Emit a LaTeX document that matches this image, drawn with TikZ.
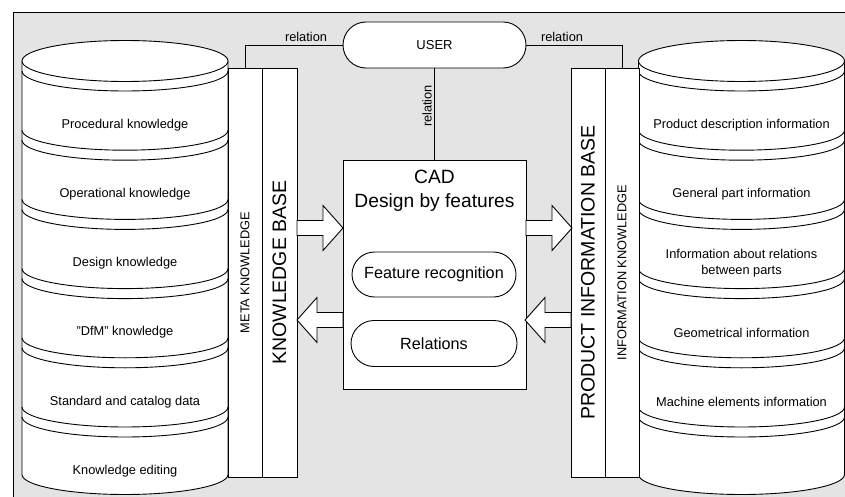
\documentclass[tikz,border=0pt]{standalone}
\usepackage{fontspec}
\setmainfont{Liberation Sans}
\usetikzlibrary{shapes.misc}
\definecolor{bggray}{HTML}{E4E4E4}
\newcommand\fs[2]{\fontsize{#1}{#2}\selectfont}
% lower half of an ellipse: centre x, centre y, x radius, y radius
\newcommand\cylarc[4]{\draw[outline] (#1-#3,#2) .. controls (#1-#3,#2+0.5523*#4) and (#1-0.5523*#3,#2+#4) .. (#1,#2+#4) .. controls (#1+0.5523*#3,#2+#4) and (#1+#3,#2+0.5523*#4) .. (#1+#3,#2);}
% stacked cylinder centred at x = #1
\newcommand\drawcyl[1]{%
  \path[outline, fill=white] (#1-103,61) -- (#1-103,474.5)
    .. controls (#1-103,485.5) and (#1-56.9,494.5) .. (#1,494.5)
    .. controls (#1+56.9,494.5) and (#1+103,485.5) .. (#1+103,474.5) -- (#1+103,61);
  \draw[outline, fill=white] (#1,61) ellipse [x radius=103pt, y radius=20.5pt];
  \cylarc{#1}{71}{103}{20}
  \foreach \k in {1,...,5}{%
    \pgfmathsetmacro\ca{61+69.2*\k}%
    \pgfmathsetmacro\cb{71+69.2*\k}%
    \cylarc{#1}{\ca}{103}{20}
    \cylarc{#1}{\cb}{103}{20}
  }%
}
\tikzset{
  outline/.style={draw=black, line width=0.9pt},
  layer/.style={font=\fs{12.8}{16}, align=center, inner sep=0pt},
  colbox/.style={outline, fill=white, minimum height=409pt, inner sep=0pt},
  pill/.style={outline, fill=white, rounded rectangle, inner sep=0pt},
  bigtxt/.style={font=\fs{19.5}{23}, rotate=90, inner sep=0pt},
  smalltxt/.style={font=\fs{12.8}{16}, inner sep=0pt},
  blockarrow/.pic={\draw[outline, fill=white] (0,-7.5) -- (26,-7.5) -- (26,-22.5) -- (46,0) -- (26,22.5) -- (26,7.5) -- (0,7.5) -- cycle;}
}
\begin{document}
\begin{tikzpicture}[x=1pt, y=-1pt]
\useasboundingbox (0,0) rectangle (845,497);
\clip (0,0) rectangle (845,497);
% panel
\fill[bggray] (13,12) rectangle (850,502);
\draw[outline] (13,502) -- (13,12) -- (850,12);

% knowledge cylinder
\drawcyl{125}
\node[layer] (kp) at (125,125) {Procedural knowledge};
\node[layer] (ko) at (125,194.2) {Operational knowledge};
\node[layer] (kd) at (125,263.4) {Design knowledge};
\node[layer] (kf) at (125,332.6) {"DfM" knowledge};
\node[layer] (ks) at (125,401.8) {Standard and catalog data};
\node[layer] (ke) at (125,471) {Knowledge editing};

% product information cylinder
\drawcyl{741.5}
\node[layer] (ip) at (741.5,125) {Product description information};
\node[layer] (ig) at (741.5,194.2) {General part information};
\node[layer] (ir) at (741.5,263.4) {Information about relations\\between parts};
\node[layer] (ic) at (741.5,332.6) {Geometrical information};
\node[layer] (im) at (741.5,401.8) {Machine elements information};

% vertical bars
\node[colbox, minimum width=34pt] (meta) at (245,272.5) {};
\node[colbox, minimum width=35pt] (kb) at (279.5,272.5) {};
\node[colbox, minimum width=34pt] (pib) at (588,272.5) {};
\node[colbox, minimum width=34pt] (ik) at (622,272.5) {};
\node[smalltxt, rotate=90] (metat) at (meta) {META KNOWLEDGE};
\node[bigtxt] (kbt) at (kb) {KNOWLEDGE BASE};
\node[bigtxt] (pibt) at (pib) {PRODUCT INFORMATION BASE};
\node[smalltxt, rotate=90] (ikt) at (ik) {INFORMATION KNOWLEDGE};

% user and CAD system
\node[pill, minimum width=183pt, minimum height=46pt, font=\fs{13}{16}] (user) at (434.5,45) {USER};
\node[outline, fill=white, minimum width=183pt, minimum height=229pt, inner sep=0pt] (cad) at (434.5,274.5) {};
\node[anchor=base, font=\fs{19.2}{23}, inner sep=0pt] (cadt) at (434.5,183) {CAD};
\node[anchor=base, font=\fs{19.2}{23}, inner sep=0pt] (cadd) at (434.5,207) {Design by features};
\node[pill, minimum width=164pt, minimum height=45pt, font=\fs{16.2}{19}] (feat) at (434,274.5) {Feature recognition};
\node[pill, minimum width=166pt, minimum height=46pt, font=\fs{16.2}{19}] (rel) at (434,343.5) {Relations};

% relations to the user
\draw[outline] (meta.north) |- (user.west);
\draw[outline] (ik.north) |- (user.east);
\draw[outline] (user.south) -- (cad.north);
\node[smalltxt] (rl) at (306,37) {relation};
\node[smalltxt] (rr) at (562,37) {relation};
\node[smalltxt, rotate=90] (rv) at (427,106) {relation};

% data flow
\pic at (297,228) {blockarrow};
\pic at (526,228) {blockarrow};
\pic[rotate=180] at (343,320) {blockarrow};
\pic[rotate=180] at (571,320) {blockarrow};
\end{tikzpicture}
\end{document}
